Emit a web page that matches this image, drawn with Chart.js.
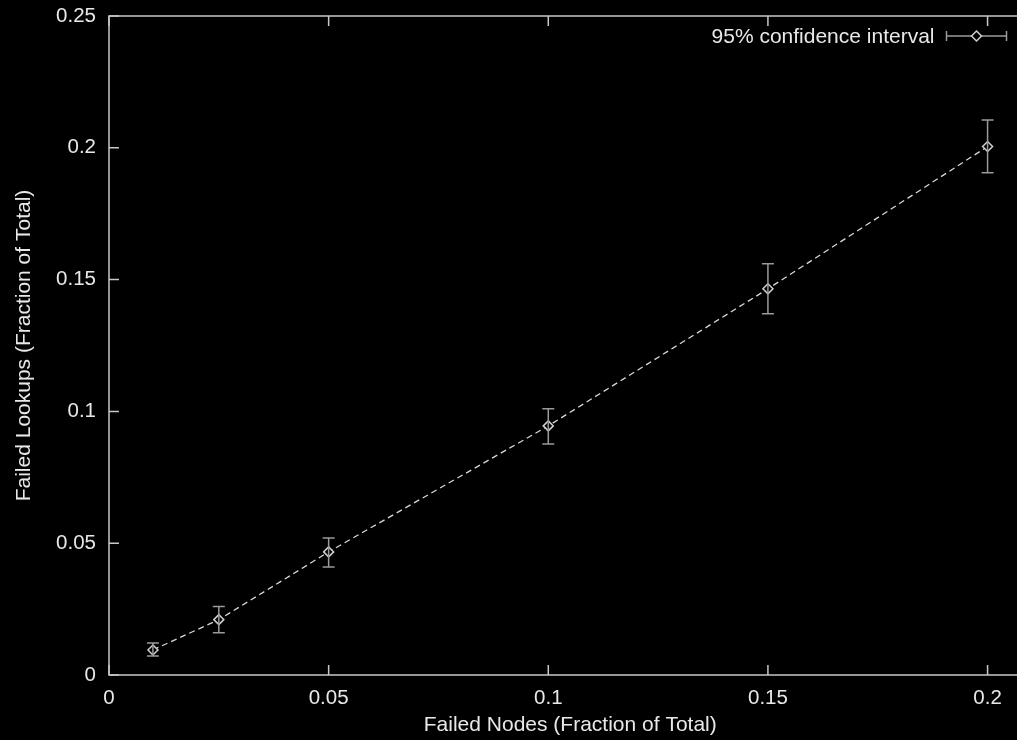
<!DOCTYPE html>
<html>
<head>
<meta charset="utf-8">
<script src="https://cdn.jsdelivr.net/npm/chart.js@4/dist/chart.umd.min.js"></script>
<style>
  html, body { margin: 0; padding: 0; background: #000; overflow: hidden; }
  #wrap { width: 1017px; height: 740px; overflow: hidden; }
</style>
</head>
<body>
<div id="wrap"><canvas id="c" width="1038" height="740"></canvas></div>
<script>
// データ
const failedNodes = [0.01, 0.025, 0.05, 0.1, 0.15, 0.2];
const failedLookups = [0.0095, 0.021, 0.0467, 0.0945, 0.1465, 0.2005];
const ciLow = [0.0072, 0.016, 0.041, 0.0876, 0.137, 0.1905];
const ciHigh = [0.0121, 0.026, 0.052, 0.101, 0.156, 0.2105];
const xTicks = [0, 0.05, 0.1, 0.15, 0.2];
const yTicks = [0, 0.05, 0.1, 0.15, 0.2, 0.25];
const seriesLabel = '95% confidence interval';

const FAMILY = '"Liberation Sans", Arial, sans-serif';
const FONT = { family: FAMILY, size: 21 };
const TICKFONT = { family: FAMILY, size: 20.5 };
const TEXT = '#e8e8e8';
const FRAME = '#c8c8c8';
const BAR = '#9a9a9a';

function fmt(v) { return String(+v.toFixed(2)); }

// 枠線・内向き目盛り・エラーバー・凡例を描くプラグイン
const gnuplotLook = {
    id: 'gnuplotLook',
    afterDatasetsDraw(chart) {
        const ctx = chart.ctx;
        const a = chart.chartArea;
        const xs = chart.scales.x, ys = chart.scales.y;
        ctx.save();

        // エラーバー
        ctx.strokeStyle = BAR;
        ctx.lineWidth = 1.5;
        failedNodes.forEach(function (x, i) {
            const px = xs.getPixelForValue(x);
            const lo = ys.getPixelForValue(ciLow[i]);
            const hi = ys.getPixelForValue(ciHigh[i]);
            ctx.beginPath();
            ctx.moveTo(px, lo); ctx.lineTo(px, hi);
            ctx.moveTo(px - 6, lo); ctx.lineTo(px + 6, lo);
            ctx.moveTo(px - 6, hi); ctx.lineTo(px + 6, hi);
            ctx.stroke();
        });

        // 枠
        ctx.strokeStyle = FRAME;
        ctx.lineWidth = 1.5;
        ctx.beginPath();
        ctx.moveTo(a.right, a.top);
        ctx.lineTo(a.left, a.top);
        ctx.lineTo(a.left, a.bottom);
        ctx.lineTo(a.right, a.bottom);
        ctx.lineTo(a.right, a.top);
        ctx.stroke();

        // 内向き目盛り
        ctx.beginPath();
        xTicks.forEach(function (v) {
            const px = xs.getPixelForValue(v);
            ctx.moveTo(px, a.bottom); ctx.lineTo(px, a.bottom - 10);
            ctx.moveTo(px, a.top); ctx.lineTo(px, a.top + 10);
        });
        yTicks.forEach(function (v) {
            const py = ys.getPixelForValue(v);
            ctx.moveTo(a.left, py); ctx.lineTo(a.left + 10, py);
            ctx.moveTo(a.right, py); ctx.lineTo(a.right - 10, py);
        });
        ctx.stroke();

        // 凡例
        const ly = a.top + 20;
        const sx1 = a.right - 25, sx0 = sx1 - 60;
        ctx.font = FONT.size + 'px ' + FONT.family;
        ctx.fillStyle = TEXT;
        ctx.textAlign = 'right';
        ctx.textBaseline = 'middle';
        ctx.fillText(seriesLabel, sx0 - 12, ly + 1);
        ctx.strokeStyle = BAR;
        ctx.lineWidth = 1.5;
        ctx.beginPath();
        ctx.moveTo(sx0, ly); ctx.lineTo(sx1, ly);
        ctx.moveTo(sx0, ly - 5); ctx.lineTo(sx0, ly + 5);
        ctx.moveTo(sx1, ly - 5); ctx.lineTo(sx1, ly + 5);
        ctx.stroke();
        const mx = (sx0 + sx1) / 2;
        ctx.fillStyle = '#000';
        ctx.strokeStyle = '#d0d0d0';
        ctx.beginPath();
        ctx.moveTo(mx, ly - 5); ctx.lineTo(mx + 5, ly);
        ctx.lineTo(mx, ly + 5); ctx.lineTo(mx - 5, ly);
        ctx.closePath();
        ctx.fill(); ctx.stroke();

        ctx.restore();
    }
};

new Chart(document.getElementById('c'), {
    type: 'scatter',
    data: {
        datasets: [{
            label: seriesLabel,
            data: failedNodes.map(function (x, i) { return { x: x, y: failedLookups[i] }; }),
            showLine: true,
            borderColor: '#d8d8d8',
            borderWidth: 1.3,
            borderDash: [6, 4],
            pointStyle: 'rectRot',
            pointRadius: 5,
            pointBorderWidth: 1.5,
            pointBorderColor: '#d0d0d0',
            pointBackgroundColor: '#000'
        }]
    },
    options: {
        responsive: false,
        animation: false,
        layout: { padding: { top: 16, left: 0, right: 0, bottom: 0 } },
        plugins: { legend: { display: false }, tooltip: { enabled: false } },
        scales: {
            x: {
                type: 'linear',
                min: 0,
                max: 0.21,
                grid: { display: false },
                border: { display: false },
                afterBuildTicks: function (s) { s.ticks = xTicks.map(function (v) { return { value: v }; }); },
                afterFit: function (s) { s.height = 65; s.paddingLeft = 0; s.paddingRight = 0; },
                ticks: { color: TEXT, font: TICKFONT, padding: 3, maxRotation: 0, callback: fmt },
                title: { display: true, text: 'Failed Nodes (Fraction of Total)', color: TEXT, font: FONT, padding: { top: 0, bottom: 2 } }
            },
            y: {
                min: 0,
                max: 0.25,
                grid: { display: false },
                border: { display: false },
                afterBuildTicks: function (s) { s.ticks = yTicks.map(function (v) { return { value: v }; }); },
                afterFit: function (s) { s.width = 109; s.paddingTop = 0; s.paddingBottom = 0; },
                ticks: { color: TEXT, font: TICKFONT, padding: 5, callback: fmt },
                title: { display: true, text: 'Failed Lookups (Fraction of Total)', color: TEXT, font: FONT, padding: { top: 12, bottom: 0 } }
            }
        }
    },
    plugins: [gnuplotLook]
});
</script>
</body>
</html>
